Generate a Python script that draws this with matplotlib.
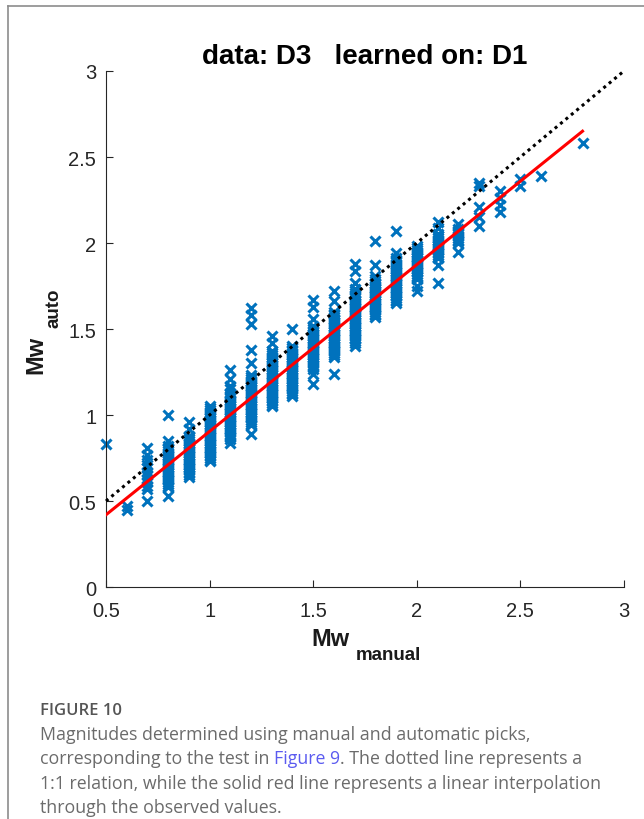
import numpy as np
import matplotlib
matplotlib.use("Agg")
from matplotlib import pyplot as plt
from matplotlib.lines import Line2D

# magnitude steps on the manual axis and the automatic values picked at each step
mw_manual = [0.5, 0.6, 0.7, 0.8, 0.9, 1.0, 1.1, 1.2, 1.3, 1.4, 1.5, 1.6, 1.7,
             1.8, 1.9, 2.0, 2.1, 2.2, 2.3, 2.4, 2.5, 2.6, 2.8]
mw_auto = [
    [0.83],
    [0.47, 0.45],
    [0.81, 0.77, 0.74, 0.71, 0.69, 0.67, 0.65, 0.63, 0.61, 0.59, 0.57, 0.50],
    [1.00, 0.85, 0.82, 0.81, 0.80, 0.79, 0.78, 0.77, 0.76, 0.75, 0.74, 0.73,
     0.72, 0.71, 0.70, 0.69, 0.68, 0.67, 0.66, 0.65, 0.64, 0.63, 0.62, 0.61,
     0.60, 0.59, 0.58, 0.53],
    [0.96, 0.92, 0.88, 0.87, 0.86, 0.85, 0.84, 0.83, 0.82, 0.81, 0.80, 0.79,
     0.78, 0.77, 0.76, 0.75, 0.74, 0.73, 0.72, 0.71, 0.70, 0.69, 0.68, 0.67,
     0.66, 0.65, 0.64],
    [1.05, 1.04, 1.03, 1.02, 1.01, 1.00, 0.99, 0.98, 0.97, 0.96, 0.95, 0.94,
     0.93, 0.92, 0.91, 0.90, 0.89, 0.88, 0.87, 0.86, 0.85, 0.84, 0.83, 0.82,
     0.81, 0.80, 0.79, 0.78, 0.77, 0.76, 0.75, 0.74, 0.73],
    [1.26, 1.21, 1.17, 1.15, 1.13, 1.12, 1.11, 1.10, 1.09, 1.08, 1.07, 1.06,
     1.05, 1.04, 1.03, 1.02, 1.01, 1.00, 0.99, 0.98, 0.97, 0.96, 0.95, 0.94,
     0.93, 0.92, 0.91, 0.90, 0.89, 0.88, 0.87, 0.86, 0.84],
    [1.62, 1.58, 1.53, 1.38, 1.30, 1.23, 1.22, 1.21, 1.20, 1.19, 1.18, 1.17,
     1.16, 1.15, 1.14, 1.13, 1.12, 1.11, 1.10, 1.09, 1.08, 1.07, 1.06, 1.05,
     1.04, 1.03, 1.02, 1.01, 1.00, 0.99, 0.98, 0.97, 0.96, 0.95, 0.94, 0.89],
    [1.46, 1.42, 1.37, 1.36, 1.35, 1.34, 1.33, 1.32, 1.31, 1.30, 1.29, 1.28,
     1.27, 1.26, 1.25, 1.24, 1.23, 1.22, 1.21, 1.20, 1.19, 1.18, 1.17, 1.16,
     1.15, 1.14, 1.13, 1.12, 1.11, 1.10, 1.09, 1.08, 1.07, 1.06, 1.05],
    [1.50, 1.40, 1.39, 1.38, 1.37, 1.36, 1.35, 1.34, 1.33, 1.32, 1.31, 1.30,
     1.29, 1.28, 1.27, 1.26, 1.25, 1.24, 1.23, 1.22, 1.21, 1.20, 1.19, 1.18,
     1.17, 1.16, 1.15, 1.14, 1.13, 1.12, 1.11],
    [1.67, 1.63, 1.56, 1.52, 1.51, 1.50, 1.49, 1.48, 1.47, 1.46, 1.45, 1.44,
     1.43, 1.42, 1.41, 1.40, 1.39, 1.38, 1.37, 1.36, 1.35, 1.34, 1.33, 1.32,
     1.31, 1.30, 1.29, 1.28, 1.27, 1.24, 1.18],
    [1.72, 1.66, 1.60, 1.59, 1.58, 1.57, 1.56, 1.55, 1.54, 1.53, 1.52, 1.51,
     1.50, 1.49, 1.48, 1.47, 1.46, 1.45, 1.44, 1.43, 1.42, 1.41, 1.40, 1.39,
     1.38, 1.37, 1.36, 1.35, 1.34, 1.24],
    [1.88, 1.84, 1.77, 1.73, 1.71, 1.70, 1.69, 1.68, 1.67, 1.66, 1.65, 1.64,
     1.63, 1.62, 1.61, 1.60, 1.59, 1.58, 1.57, 1.56, 1.55, 1.54, 1.53, 1.52,
     1.51, 1.50, 1.49, 1.48, 1.47, 1.46, 1.45, 1.44, 1.43, 1.42, 1.40],
    [2.01, 1.87, 1.81, 1.79, 1.78, 1.77, 1.76, 1.75, 1.74, 1.73, 1.72, 1.71,
     1.70, 1.69, 1.68, 1.67, 1.66, 1.65, 1.64, 1.63, 1.62, 1.61, 1.60, 1.59,
     1.58, 1.57],
    [2.07, 1.94, 1.91, 1.90, 1.89, 1.88, 1.87, 1.86, 1.85, 1.84, 1.83, 1.82,
     1.81, 1.80, 1.79, 1.78, 1.77, 1.76, 1.75, 1.74, 1.73, 1.72, 1.71, 1.70,
     1.69, 1.68, 1.67, 1.66, 1.65],
    [1.98, 1.97, 1.96, 1.95, 1.94, 1.93, 1.92, 1.91, 1.90, 1.89, 1.88, 1.87,
     1.86, 1.85, 1.84, 1.83, 1.82, 1.81, 1.80, 1.79, 1.75, 1.72],
    [2.12, 2.09, 2.05, 2.04, 2.03, 2.02, 2.01, 2.00, 1.99, 1.98, 1.97, 1.96,
     1.95, 1.94, 1.93, 1.92, 1.91, 1.87, 1.77],
    [2.11, 2.08, 2.07, 2.06, 2.05, 2.04, 2.03, 2.02, 2.01, 2.00, 1.95],
    [2.35, 2.33, 2.21, 2.15, 2.10],
    [2.30, 2.26, 2.22, 2.18],
    [2.37, 2.33],
    [2.39],
    [2.58],
]

# 1:1 reference and the linear fit through the observations
one_to_one = [0.5, 3.0]
fit_x = [0.5, 2.8]
fit_y = [0.42, 2.65]

x_ticks = [0.5, 1, 1.5, 2, 2.5, 3]
y_ticks = [0, 0.5, 1, 1.5, 2, 2.5, 3]

caption_head = "FIGURE 10"
caption_lines = [
    ["Magnitudes determined using manual and automatic picks,"],
    ["corresponding to the test in ", "Figure 9",
     ". The dotted line represents a"],
    ["1:1 relation, while the solid red line represents a linear interpolation"],
    ["through the observed values."],
]

plt.rcParams['font.family'] = ['Liberation Sans', 'DejaVu Sans']
axis_col = '#262626'

fig = plt.figure(figsize=(6.44, 8.20), dpi=100)
ax = fig.add_axes([0.1646, 0.2829, 0.8043, 0.6293])

xs = np.concatenate([[m] * len(v) for m, v in zip(mw_manual, mw_auto)])
ys = np.concatenate(mw_auto)
ax.plot(xs, ys, 'x', color='#0072BD', markersize=7.5, markeredgewidth=2.2,
        clip_on=False, zorder=2)
ax.plot(one_to_one, one_to_one, color='black', linewidth=2.2,
        linestyle=(0, (1.0, 1.3)), clip_on=False, zorder=3)
ax.plot(fit_x, fit_y, color='#FF0000', linewidth=2.2, zorder=4)

ax.set_xlim(0.5, 3)
ax.set_ylim(0, 3)
ax.set_xticks(x_ticks)
ax.set_xticklabels([f"{t:g}" for t in x_ticks])
ax.set_yticks(y_ticks)
ax.set_yticklabels([f"{t:g}" for t in y_ticks])
ax.tick_params(direction='in', length=5, width=0.8, colors=axis_col,
               labelsize=14.5)
ax.tick_params(axis='x', pad=10)
ax.tick_params(axis='y', pad=7)
for s in ['top', 'right']:
    ax.spines[s].set_visible(False)
for s in ['left', 'bottom']:
    ax.spines[s].set_color(axis_col)
    ax.spines[s].set_linewidth(0.8)

ax.set_title("data: D3   learned on: D1", fontsize=20, fontweight='bold',
             color='black', pad=6)

# axis labels with the MATLAB-style lowered subscript
lab_col = '#1a1a1a'
fig.text(330 / 644, 1 - 640 / 820, "Mw", fontsize=17, fontweight='bold',
         ha='center', va='center', color=lab_col)
fig.text(388 / 644, 1 - 655 / 820, "manual", fontsize=13.5, fontweight='bold',
         ha='center', va='center', color=lab_col)
fig.text(36 / 644, 1 - 355 / 820, "Mw", fontsize=17, fontweight='bold',
         ha='center', va='center', rotation=90, color=lab_col)
fig.text(54 / 644, 1 - 308 / 820, "auto", fontsize=13.5, fontweight='bold',
         ha='center', va='center', rotation=90, color=lab_col)

# caption
cap_font = ['Open Sans', 'DejaVu Sans']
cap_col = '#6b6b6b'
fig.text(40 / 644, 1 - 711 / 820, caption_head, fontsize=12, color='#555555',
         family=cap_font, fontweight='semibold', va='center')
for i, parts in enumerate(caption_lines):
    y = 1 - (735 + i * 24.5) / 820
    prev = fig.text(40 / 644, y, parts[0], fontsize=12.8, color=cap_col,
                    family=cap_font, va='center')
    for p in parts[1:]:
        col = '#5b5bf0' if p == "Figure 9" else cap_col
        prev = ax.annotate(p, xy=(1, 0.5), xycoords=prev, va='center',
                           ha='left', fontsize=12.8, color=col,
                           family=cap_font, annotation_clip=False)

# page frame (top and left border)
fig.add_artist(Line2D([8 / 644, 8 / 644], [0, 1 - 7 / 820],
                      transform=fig.transFigure, color='#8c8c8c', lw=1.2))
fig.add_artist(Line2D([8 / 644, 1], [1 - 7 / 820, 1 - 7 / 820],
                      transform=fig.transFigure, color='#8c8c8c', lw=1.2))

fig.savefig("out.png", dpi=100)
